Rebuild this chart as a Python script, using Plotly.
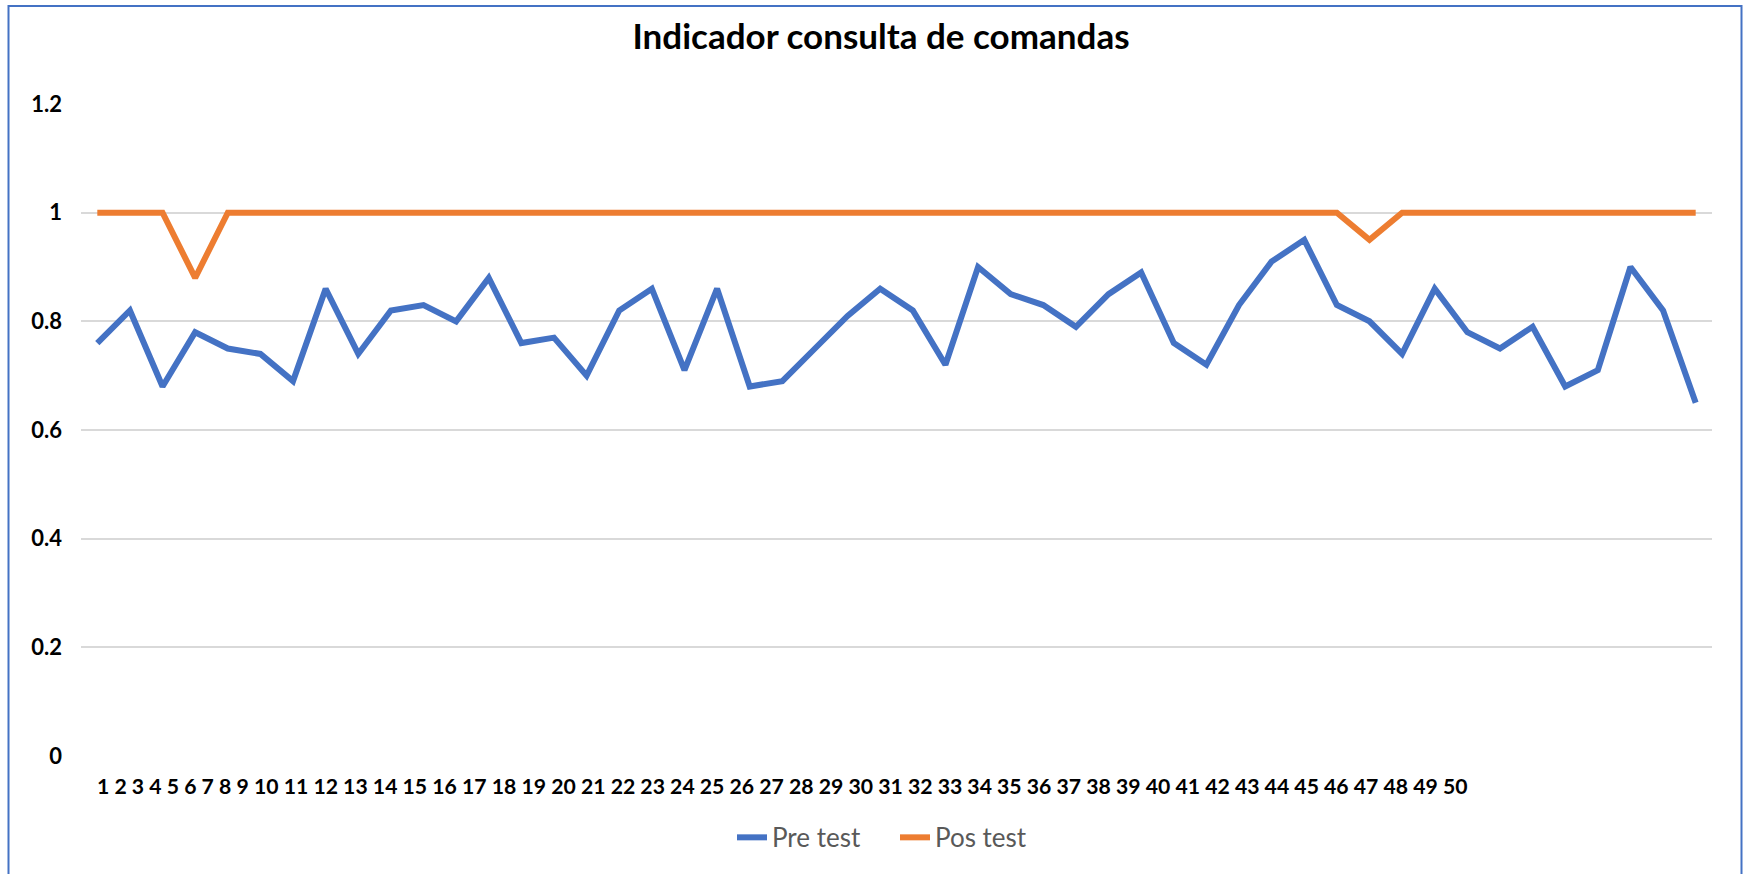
import plotly.graph_objects as go

categories = list(range(1, 51))
pre_test = [0.76, 0.82, 0.68, 0.78, 0.75, 0.74, 0.69, 0.86, 0.74, 0.82,
            0.83, 0.80, 0.88, 0.76, 0.77, 0.70, 0.82, 0.86, 0.71, 0.86,
            0.68, 0.69, 0.75, 0.81, 0.86, 0.82, 0.72, 0.90, 0.85, 0.83,
            0.79, 0.85, 0.89, 0.76, 0.72, 0.83, 0.91, 0.95, 0.83, 0.80,
            0.74, 0.86, 0.78, 0.75, 0.79, 0.68, 0.71, 0.90, 0.82, 0.65]
pos_test = [1, 1, 1, 0.88, 1, 1, 1, 1, 1, 1,
            1, 1, 1, 1, 1, 1, 1, 1, 1, 1,
            1, 1, 1, 1, 1, 1, 1, 1, 1, 1,
            1, 1, 1, 1, 1, 1, 1, 1, 1, 0.95,
            1, 1, 1, 1, 1, 1, 1, 1, 1, 1]
y_ticks = [0, 0.2, 0.4, 0.6, 0.8, 1, 1.2]
y_tick_text = ["0", "0.2", "0.4", "0.6", "0.8", "1", "1.2"]
title_text = "Indicador consulta de comandas"

W, H = 1747, 874
L, R, T, B = 81, 1712, 104, 756.5
PW, PH = R - L, B - T


def px(X):
    return (X - L) / PW


def py(Y):
    return (B - Y) / PH


FONT = "Lato, Carlito, Calibri, sans-serif"

fig = go.Figure()
fig.add_trace(go.Scatter(x=categories, y=pre_test, mode="lines", name="Pre test",
                         line=dict(color="#4472C4", width=6)))
fig.add_trace(go.Scatter(x=categories, y=pos_test, mode="lines", name="Pos test",
                         line=dict(color="#ED7D31", width=6)))

fig.update_layout(
    width=W, height=H,
    margin=dict(l=L, r=W - R, t=T, b=H - B),
    paper_bgcolor="white", plot_bgcolor="white",
    title=dict(text="<b>" + title_text + "</b>", xref="container", yref="container",
               x=881 / W, y=1 - 37 / H, xanchor="center", yanchor="middle",
               font=dict(family=FONT, size=35, color="black")),
    xaxis=dict(range=[0.5, 50.5], showticklabels=False, showgrid=False,
               zeroline=False, showline=False, ticks=""),
    yaxis=dict(range=[0, 1.2], tickvals=y_ticks, ticktext=y_tick_text,
               showgrid=True, gridcolor="#D9D9D9", gridwidth=1.5,
               zeroline=False, showline=False, ticks="",
               ticklabelstandoff=18,
               tickfont=dict(family=FONT, size=22, color="black", weight="bold")),
    legend=dict(orientation="h", x=px(732), y=py(838), xanchor="left", yanchor="middle",
                font=dict(family=FONT, size=26, color="#595959"),
                entrywidth=118, entrywidthmode="pixels",
                tracegroupgap=0, bgcolor="rgba(0,0,0,0)"),
    showlegend=True,
)

fig.add_annotation(text="<b>" + " ".join(str(c) for c in categories) + "</b>",
                   xref="paper", yref="paper", x=px(95), y=py(787),
                   xanchor="left", yanchor="middle", showarrow=False,
                   font=dict(family=FONT, size=21.2, color="black"))

fig.add_shape(type="rect", xref="paper", yref="paper",
              x0=px(8.5), x1=px(1741.5), y0=py(890), y1=py(6),
              line=dict(color="#4472C4", width=2), fillcolor="rgba(0,0,0,0)",
              layer="below")

fig.write_html("out.html", config={"displayModeBar": False},
               post_script="document.body.style.margin='0';document.body.style.overflow='hidden';")
